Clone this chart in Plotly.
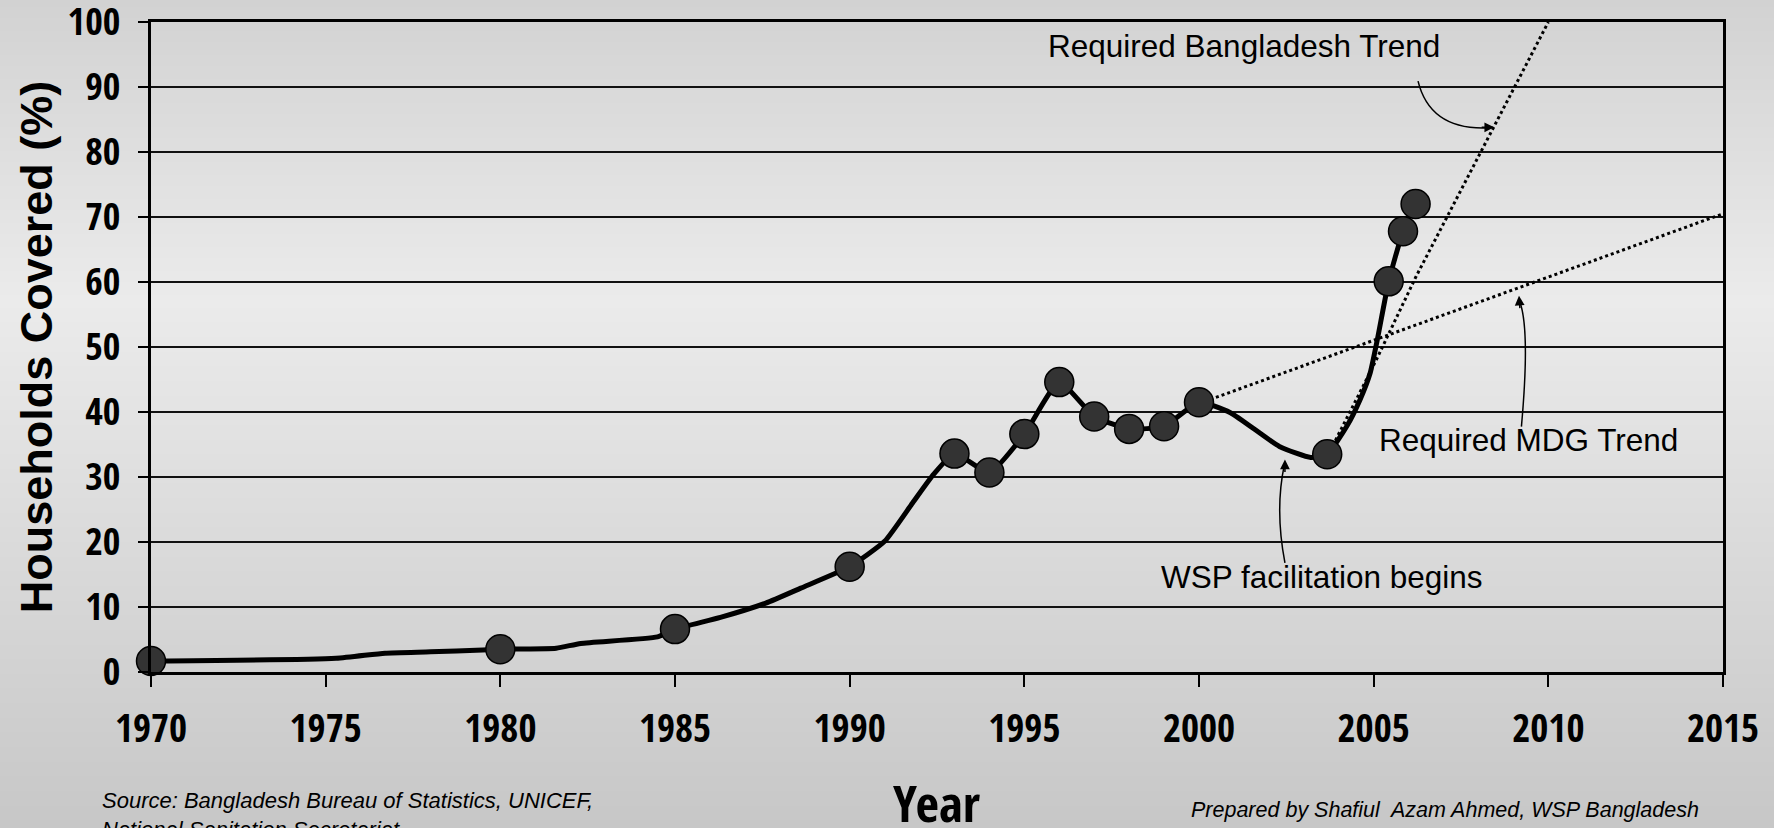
import base64
import struct
import zlib

import plotly.graph_objects as go

# ---------------- data ----------------
marker_years = [1970, 1980, 1985, 1990, 1993, 1994, 1995, 1996, 1997, 1998, 1999, 2000,
                2003.67, 2005.43, 2005.84, 2006.2]
marker_values = [1.7, 3.5, 6.6, 16.2, 33.6, 30.7, 36.6, 44.6, 39.3, 37.4, 37.8, 41.5,
                 33.5, 60.1, 67.8, 72.0]

line_years = [1970, 1970.5, 1975.3, 1976.7, 1978.0, 1979.5, 1980, 1981.6, 1982.3, 1984.5, 1985,
              1986.3, 1987.6, 1988.6, 1990, 1991.0, 1991.8, 1992.4, 1993, 1994, 1995, 1996,
              1997, 1998, 1999, 2000, 2000.9, 2002.3, 2003.2, 2003.67, 2004.23, 2004.61,
              2004.9, 2005.1, 2005.43, 2005.84, 2006.2]
line_values = [1.7, 1.7, 2.1, 2.9, 3.1, 3.4, 3.5, 3.65, 4.4, 5.4, 6.6,
               8.4, 10.6, 12.9, 16.2, 20.1, 26.0, 30.4, 33.6, 30.7, 36.6, 44.6,
               39.3, 37.4, 37.8, 41.5, 39.9, 34.7, 33.0, 33.5, 37.8, 41.9,
               46.0, 51.0, 60.1, 67.8, 72.0]

bd_trend_years = [2003.75, 2004.3, 2004.7, 2005.1, 2006.2, 2010.0]
bd_trend_values = [34.0, 39.7, 44.0, 48.3, 60.7, 100.0]

mdg_trend_years = [2000, 2015]
mdg_trend_values = [41.3, 70.5]

x_ticks = [1970, 1975, 1980, 1985, 1990, 1995, 2000, 2005, 2010, 2015]
y_ticks = [0, 10, 20, 30, 40, 50, 60, 70, 80, 90, 100]

# ---------------- page geometry / style ----------------
W, H = 1774, 828
ML, MR, MT, MB = 151, 51, 22, 156
PW, PH = W - ML - MR, H - MT - MB

NARROW = "Open Sans Condensed, Roboto Condensed, Liberation Sans Narrow, Liberation Sans, sans-serif"
ARIAL = "Liberation Sans, Arial, sans-serif"


def px_x(px):
    return (px - ML) / PW


def px_y(py):
    return (MT + PH - py) / PH


def gradient_png(height, stops):
    rows = bytearray()
    for y in range(height):
        for i in range(len(stops) - 1):
            y0, g0 = stops[i]
            y1, g1 = stops[i + 1]
            if y0 <= y <= y1:
                g = round(g0 + (g1 - g0) * (y - y0) / (y1 - y0))
                break
        rows += b"\x00" + bytes([g, g, g])
    def chunk(tag, data):
        c = struct.pack(">I", len(data)) + tag + data
        return c + struct.pack(">I", zlib.crc32(tag + data) & 0xFFFFFFFF)
    png = b"\x89PNG\r\n\x1a\n"
    png += chunk(b"IHDR", struct.pack(">IIBBBBB", 1, height, 8, 2, 0, 0, 0))
    png += chunk(b"IDAT", zlib.compress(bytes(rows), 9))
    png += chunk(b"IEND", b"")
    return "data:image/png;base64," + base64.b64encode(png).decode()


bg = gradient_png(H, [(0, 210), (300, 235), (H - 1, 199)])

fig = go.Figure()

fig.add_trace(go.Scatter(
    x=mdg_trend_years, y=mdg_trend_values, mode="lines",
    line=dict(color="black", width=3, dash="3px,3px"), hoverinfo="skip",
))
fig.add_trace(go.Scatter(
    x=bd_trend_years, y=bd_trend_values, mode="lines",
    line=dict(color="black", width=3, dash="3px,3px"), hoverinfo="skip",
))
fig.add_trace(go.Scatter(
    x=line_years, y=line_values, mode="lines",
    line=dict(color="black", width=5, shape="spline", smoothing=0.5),
))
fig.add_trace(go.Scatter(
    x=marker_years, y=marker_values, mode="markers", cliponaxis=False,
    marker=dict(symbol="circle", size=29, color="#333333",
                line=dict(color="black", width=1.5)),
))

# curved annotation arrows (bodies) + arrow heads
arrow_paths = [
    "M 2006.27,90.9 Q 2006.61,83.5 2008.2,83.7",
    "M 2009.23,37.75 Q 2009.48,52.7 2009.18,57.0",
    "M 2002.46,16.8 Q 2002.17,24.96 2002.44,31.8",
]
for p in arrow_paths:
    fig.add_shape(type="path", path=p, xref="x", yref="y",
                  line=dict(color="black", width=1.5), layer="above")

heads = [(2008.45, 83.8, -14, 0), (2009.16, 57.9, 1, 14), (2002.46, 32.7, 0, 14)]
for hx, hy, ax, ay in heads:
    fig.add_annotation(x=hx, y=hy, ax=ax, ay=ay, xref="x", yref="y", text="",
                       showarrow=True, arrowhead=2, arrowsize=1.3, arrowwidth=1.5,
                       arrowcolor="black")

labels = [
    ("Required Bangladesh Trend", 2001.29, 96.3),
    ("Required MDG Trend", 2009.43, 35.7),
    ("WSP facilitation begins", 2003.52, 14.6),
]
for txt, lx, ly in labels:
    fig.add_annotation(x=lx, y=ly, xref="x", yref="y", text=txt, showarrow=False,
                       font=dict(family=ARIAL, size=31.5, color="black"),
                       xanchor="center", yanchor="middle")

# x-axis title (placed as annotation so it can sit at the very bottom like the original)
fig.add_annotation(
    x=0.5, y=px_y(802), xref="paper", yref="paper", xanchor="center", yanchor="middle",
    text="Year", showarrow=False,
    font=dict(family=NARROW, size=51, color="black", weight="bold"),
)

fig.add_annotation(
    x=px_x(100), y=px_y(786), xref="paper", yref="paper", xanchor="left", yanchor="top",
    text="<i>Source: Bangladesh Bureau of Statistics, UNICEF,<br>National Sanitation Secretariat</i>",
    align="left", showarrow=False, font=dict(family=ARIAL, size=22, color="black"),
)
fig.add_annotation(
    x=px_x(1189), y=px_y(810), xref="paper", yref="paper", xanchor="left", yanchor="middle",
    text="<i>Prepared by Shafiul  Azam Ahmed, WSP Bangladesh</i>",
    showarrow=False, font=dict(family=ARIAL, size=21.5, color="black"),
)

fig.add_layout_image(dict(
    source=bg, xref="paper", yref="paper",
    x=-ML / PW, y=1 + MT / PH, sizex=W / PW, sizey=H / PH,
    xanchor="left", yanchor="top", sizing="stretch", layer="below",
))

fig.update_layout(
    width=W, height=H,
    margin=dict(l=ML, r=MR, t=MT, b=MB, autoexpand=False),
    paper_bgcolor="#dcdcdc", plot_bgcolor="rgba(0,0,0,0)",
    showlegend=False,
    xaxis=dict(
        range=[1970, 2015], tickmode="array", tickvals=x_ticks,
        ticktext=[str(v) for v in x_ticks], automargin=False,
        ticklabeloverflow="allow",
        showgrid=False, zeroline=False,
        showline=True, linecolor="black", linewidth=3, mirror=True,
        ticks="outside", ticklen=12, tickwidth=1.5, tickcolor="black",
        ticklabelstandoff=8,
        tickfont=dict(family=NARROW, size=39, color="black", weight="bold"),
    ),
    yaxis=dict(
        range=[0, 100], tickmode="array", tickvals=y_ticks, automargin=False,
        ticklabeloverflow="allow",
        showgrid=True, gridcolor="#111111", gridwidth=2, zeroline=False,
        showline=True, linecolor="black", linewidth=3, mirror=True,
        ticks="outside", ticklen=10, tickwidth=2, tickcolor="black",
        ticklabelstandoff=10,
        tickfont=dict(family=NARROW, size=38, color="black", weight="bold"),
        title=dict(text="Households Covered (%)", standoff=1,
                   font=dict(family=ARIAL, size=45, color="black", weight="bold")),
    ),
)

fig.write_html(
    "out.html",
    config={"displayModeBar": False},
    post_script="document.body.style.margin='0';document.body.style.overflow='hidden';",
)
